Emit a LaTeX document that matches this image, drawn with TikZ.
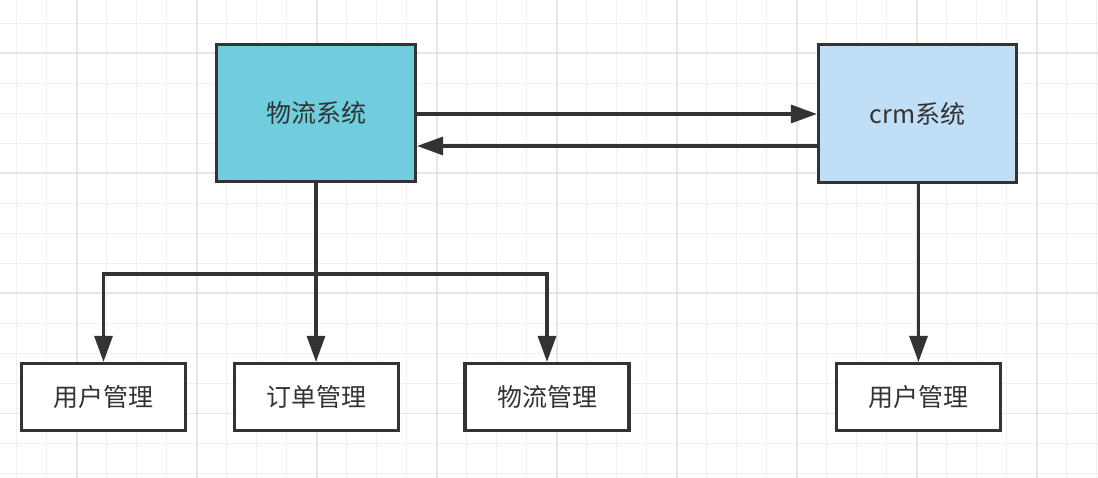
\documentclass[tikz,border=0pt]{standalone}
\usepackage{fontspec}
\setmainfont{Noto Sans CJK SC}
\usetikzlibrary{arrows.meta}
\definecolor{ink}{HTML}{333333}
\definecolor{gridminor}{HTML}{F0F0F0}
\definecolor{gridmajor}{HTML}{E6E6E6}
\definecolor{sysblue}{HTML}{6FCDDE}
\definecolor{crmblue}{HTML}{C0DEF6}
\tikzset{
  sysbox/.style={draw=ink, line width=3.2pt, minimum width=199pt, minimum height=137pt, inner sep=0pt, text=ink, font=\fontsize{25pt}{30pt}\selectfont},
  subbox/.style={draw=ink, line width=3.2pt, fill=white, minimum width=164pt, minimum height=67pt, inner sep=0pt, text=ink, font=\fontsize{25pt}{30pt}\selectfont},
  conn/.style={draw=ink, line width=3.2pt, -{Triangle[length=26pt,width=18pt]}}
}
\begin{document}
\begin{tikzpicture}[x=1pt,y=-1pt]
\useasboundingbox (0,0) rectangle (1098,478);
\fill[white] (0,0) rectangle (1098,478);
% grid
\foreach \k in {0,...,36} {\draw[gridminor, line width=1.2pt] (16.7+30*\k,0) -- (16.7+30*\k,478);}
\foreach \k in {0,...,15} {\draw[gridminor, line width=1.2pt] (0,23.3+30*\k) -- (1098,23.3+30*\k);}
\foreach \k in {0,...,8} {\draw[gridmajor, line width=1.6pt] (76.7+120*\k,0) -- (76.7+120*\k,478);}
\foreach \k in {0,...,3} {\draw[gridmajor, line width=1.6pt] (0,53.3+120*\k) -- (1098,53.3+120*\k);}
% nodes
\node[sysbox, fill=sysblue] (wl) at (316,113) {物流系统};
\node[sysbox, fill=crmblue, minimum width=198pt, minimum height=138pt] (crm) at (917.5,113.5) {crm系统};
\node[subbox] (u1) at (103.5,397) {用户管理};
\node[subbox] (dd) at (316.5,397) {订单管理};
\node[subbox] (wg) at (547,397) {物流管理};
\node[subbox] (u2) at (918.5,397) {用户管理};
% connectors
\draw[conn] (wl.east |- 0,114) -- (crm.west |- 0,114);
\draw[conn] (crm.west |- 0,146) -- (wl.east |- 0,146);
\coordinate (j) at (316,274);
\draw[conn] (wl.south) -- (dd.north -| wl.south);
\draw[conn] (j) -| (u1.north);
\draw[conn] (j) -| (wg.north);
\draw[conn] (crm.south -| u2.north) -- (u2.north);
\end{tikzpicture}
\end{document}
